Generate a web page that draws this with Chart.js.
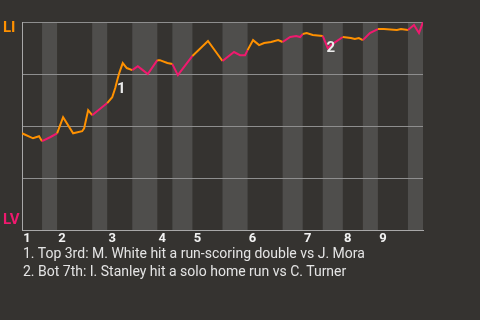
<!DOCTYPE html>
<html>
<head>
<meta charset="utf-8">
<script src="https://cdn.jsdelivr.net/npm/chart.js@4"></script>
<style>
  html, body { margin: 0; padding: 0; background: #353330; overflow: hidden; }
  #myChart { position: absolute; left: 0; top: 0; }
  #notes { position: absolute; left: 23px; top: 244px; font-family: Roboto, sans-serif; font-size: 14px; line-height: 18px; color: #e4e4e4; }
</style>
</head>
<body>
<canvas id="myChart" width="480" height="320"></canvas>
<div id="notes"></div>
<script>
// game progress (plate appearances) and win probability of LI, in %
const plays = [0, 2.2, 3.4, 4, 5.6, 7, 8.2, 10.2, 12, 12.4, 13.2, 14, 16.2, 17, 18, 18.6, 19, 19.4, 19.6, 20.1, 20.9, 22,
  23.1, 24.1, 25.1, 27, 27.5, 29, 30, 31.1, 34, 37.1, 40, 42.3, 43.5, 44.5, 45, 46.1, 47.3, 48.3, 49.7, 51.1, 52,
  53.5, 54.7, 55.5, 56, 56.8, 58, 60, 61, 62.2, 64, 65.6, 66.4, 67.2, 68, 69.4, 71, 72.2, 74.8, 75.6, 77, 78.2, 79.2, 80];
const winProb = [46.6, 44.2, 45.2, 42.8, 44.7, 46.6, 54.3, 46.6, 47.6, 49.0, 57.7, 55.3, 59.6, 61.1, 63.9, 68.3, 72.1, 75.5, 76.9, 80.3, 77.9, 76.9,
  78.8, 76.9, 75.0, 81.7, 81.7, 80.3, 79.8, 74.5, 83.7, 90.9, 81.3, 85.6, 84.1, 84.1, 86.5, 91.3, 88.9, 89.9, 90.4, 91.3, 90.4,
  92.8, 93.3, 92.8, 94.2, 94.7, 93.75, 93.3, 87.5, 89.9, 92.8, 92.3, 91.8, 92.3, 91.3, 94.7, 96.6, 96.6, 96.2, 96.6, 96.2, 98.6, 94.7, 100];

// start of each half inning (top 1, bot 1, top 2, ...), last value = end of game
const halfStarts = [0, 4, 7, 14, 17, 22, 27, 30, 34, 40, 45, 52, 56, 60, 64, 68, 71, 77, 80];
const inningLabels = ['1', '2', '3', '4', '5', '6', '7', '8', '9'];

const teams = ['LI', 'LV'];
const eventPlays = [19.6, 61];
const eventProbs = [76.9, 87.5];
const eventNotes = [
  '1. Top 3rd: M. White hit a run-scoring double vs J. Mora',
  '2. Bot 7th: I. Stanley hit a solo home run vs C. Turner'
];

const ORANGE = '#ff9100';
const PINK = '#f0196e';

document.getElementById('notes').innerHTML = eventNotes.map(n => '<div>' + n + '</div>').join('');

function halfIndex(x) {
  for (let i = 0; i < halfStarts.length - 1; i++) {
    if (x >= halfStarts[i] && x < halfStarts[i + 1]) return i;
  }
  return halfStarts.length - 2;
}

const bandsPlugin = {
  id: 'bands',
  beforeDraw(chart) {
    const { ctx, chartArea, scales } = chart;
    ctx.save();
    for (let i = 1; i < halfStarts.length - 1; i += 2) {
      const x0 = scales.x.getPixelForValue(halfStarts[i]);
      const x1 = scales.x.getPixelForValue(halfStarts[i + 1]);
      ctx.fillStyle = '#4f4e4c';
      ctx.fillRect(x0, chartArea.top, x1 - x0, chartArea.bottom - chartArea.top);
    }
    ctx.restore();
  },
  afterDatasetsDraw(chart) {
    const { ctx, chartArea, scales } = chart;
    ctx.save();
    ctx.font = 'bold 15px Roboto';
    ctx.textBaseline = 'middle';
    ctx.textAlign = 'left';
    ctx.fillStyle = ORANGE;
    ctx.fillText(teams[0], 3, chartArea.top + 6);
    ctx.fillStyle = PINK;
    ctx.fillText(teams[1], 3, chartArea.bottom - 10);

    const offs = [[1, 19], [3, 0]];
    ctx.textAlign = 'center';
    ctx.fillStyle = '#ececec';
    eventPlays.forEach((p, i) => {
      const x = scales.x.getPixelForValue(p) + offs[i][0];
      const y = scales.y.getPixelForValue(eventProbs[i]) + offs[i][1];
      ctx.fillText(String(i + 1), x, y);
    });
    ctx.restore();
  }
};

const ctx = document.getElementById('myChart').getContext('2d');

const data = {
  datasets: [{
    data: plays.map((p, i) => ({ x: p, y: winProb[i] })),
    borderColor: ORANGE,
    borderWidth: 2,
    pointRadius: 0,
    tension: 0,
    segment: {
      borderColor: c => halfIndex((c.p0.parsed.x + c.p1.parsed.x) / 2) % 2 === 0 ? ORANGE : PINK
    }
  }]
};

const config = {
  type: 'line',
  data: data,
  plugins: [bandsPlugin],
  options: {
    responsive: false,
    animation: false,
    layout: { padding: { left: 22, right: 57, top: 22, bottom: 72 } },
    plugins: { legend: { display: false }, tooltip: { enabled: false } },
    scales: {
      x: {
        type: 'linear',
        min: 0,
        max: 80,
        afterBuildTicks: axis => {
          axis.ticks = inningLabels.map((l, i) => ({ value: halfStarts[i * 2] }));
        },
        grid: { display: false, drawTicks: false },
        border: { display: true, color: '#a8a8a8', width: 1 },
        ticks: {
          autoSkip: false,
          maxRotation: 0,
          padding: 1,
          labelOffset: 5,
          color: '#f2f2f2',
          font: { family: 'Roboto', size: 13, weight: 'bold' },
          callback: (v, i) => inningLabels[i]
        }
      },
      y: {
        min: 0,
        max: 100,
        afterBuildTicks: axis => {
          axis.ticks = [0, 25, 50, 75, 100].map(v => ({ value: v }));
        },
        grid: { color: '#8e8e8e', drawTicks: false },
        border: { display: true, color: '#a8a8a8', width: 1 },
        ticks: { display: false }
      }
    }
  }
};

const myChart = new Chart(ctx, config);
</script>
</body>
</html>
